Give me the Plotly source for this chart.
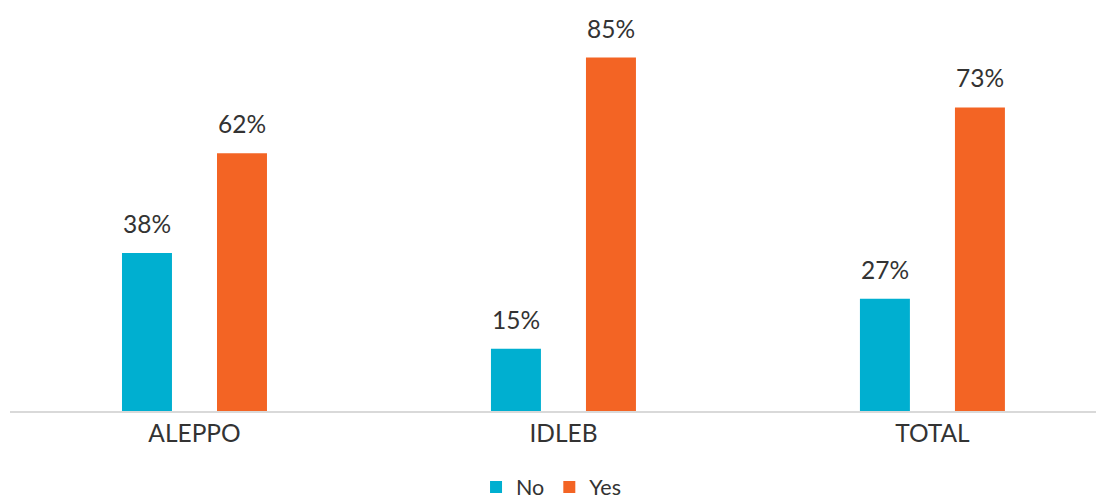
import plotly.graph_objects as go

categories = ["ALEPPO", "IDLEB", "TOTAL"]
no_values = [38, 15, 27]
yes_values = [62, 85, 73]
series_names = ["No", "Yes"]
series_colors = ["#00AFD0", "#F36424"]

FONT = "Lato"
TEXT_COLOR = "#333333"
BARGAP = 0.485
BARGROUPGAP = 0.474

fig = go.Figure()
for name, vals, col in zip(series_names, [no_values, yes_values], series_colors):
    fig.add_trace(go.Bar(name=name, x=categories, y=vals, marker_color=col,
                         marker_line_width=0))

slot = (1 - BARGAP) / 2
offsets = [-slot / 2, slot / 2]
annotations = []
for off, vals in zip(offsets, [no_values, yes_values]):
    for i, v in enumerate(vals):
        annotations.append(dict(x=i + off, y=v, xref="x", yref="y",
                                text=f"{v}%", showarrow=False,
                                yanchor="bottom", yshift=13,
                                font=dict(family=FONT, size=24.5, color=TEXT_COLOR)))

fig.update_layout(
    width=1096, height=500,
    margin=dict(l=2, r=0, t=3, b=97),
    paper_bgcolor="white", plot_bgcolor="white",
    barmode="group", bargap=BARGAP, bargroupgap=BARGROUPGAP,
    font=dict(family=FONT, color=TEXT_COLOR),
    xaxis=dict(type="category", range=[-0.5, 2.465], showline=True,
               linecolor="#D9D9D9", linewidth=2, ticks="",
               tickfont=dict(family=FONT, size=24.5, color=TEXT_COLOR),
               showgrid=False, zeroline=False),
    yaxis=dict(range=[0, 96.2], visible=False, showgrid=False, zeroline=False),
    legend=dict(orientation="h", x=0.495, xanchor="center",
                yref="container", y=0.042, yanchor="middle",
                font=dict(family=FONT, size=21.5, color=TEXT_COLOR),
                itemwidth=30, traceorder="normal"),
    annotations=annotations,
    showlegend=True,
)

fig.write_html("out.html")
